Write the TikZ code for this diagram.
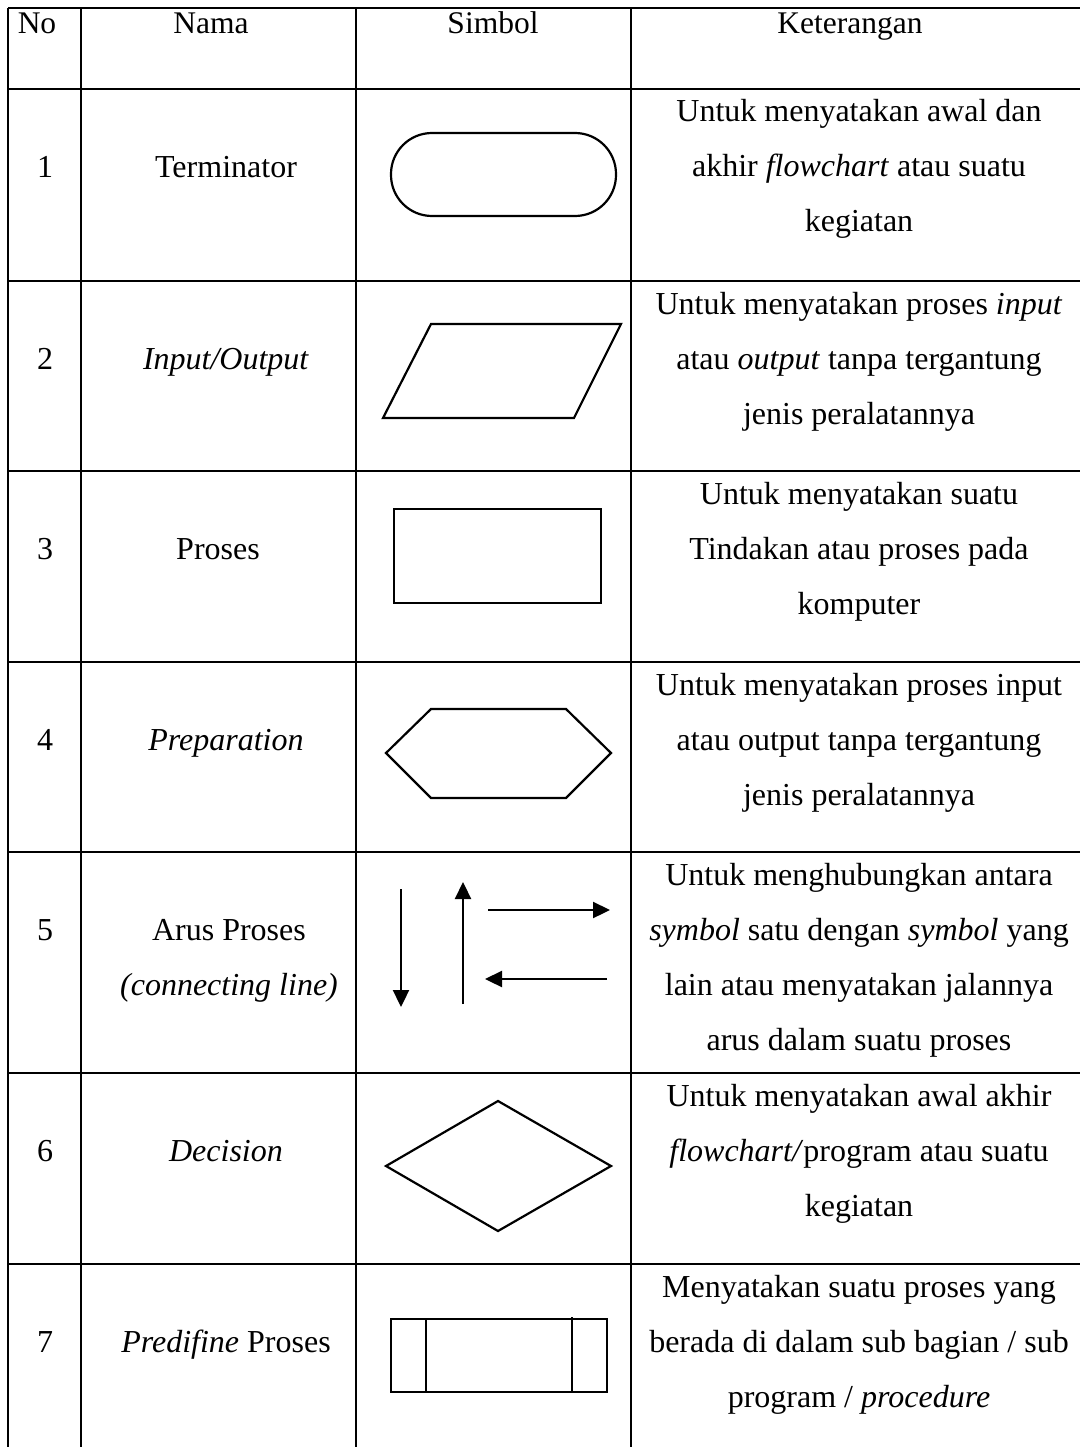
\documentclass[tikz,border=0pt]{standalone}
\usepackage{fontspec}
\setmainfont{Liberation Serif}
\usetikzlibrary{arrows.meta}
\begin{document}
\begin{tikzpicture}[x=1pt,y=-1pt,
    every node/.style={font=\fontsize{32}{55}\selectfont,inner sep=0pt},
    head/.style={font=\fontsize{31.5}{55}\selectfont},
    rule/.style={line width=2.6pt},
    sym/.style={line width=2.2pt,line join=miter},
    flow/.style={line width=2.3pt,-{Triangle[length=17pt,width=16pt]}},
    txt/.style={anchor=base,align=center}]
    \useasboundingbox (0,0) rectangle (1080,1447);
    % garis tabel
    \draw[rule] (8,8) -- (1080,8);
    \draw[rule] (8,89) -- (1080,89);
    \draw[rule] (8,281) -- (1080,281);
    \draw[rule] (8,471) -- (1080,471);
    \draw[rule] (8,662) -- (1080,662);
    \draw[rule] (8,852) -- (1080,852);
    \draw[rule] (8,1073) -- (1080,1073);
    \draw[rule] (8,1264) -- (1080,1264);
    \draw[rule] (8,8) -- (8,1447);
    \draw[rule] (81,8) -- (81,1447);
    \draw[rule] (356,8) -- (356,1447);
    \draw[rule] (631,8) -- (631,1447);
    % kepala tabel
    \node[txt,head] (hno) at (37,34) {No};
    \node[txt,head] (hnama) at (211,34) {Nama};
    \node[txt,head] (hsimbol) at (493,34) {Simbol};
    \node[txt,head] (hket) at (850,34) {Keterangan};
    % 1 terminator
    \node[txt] (no1) at (45,178) {1};
    \node[txt] (nama1) at (226,178) {Terminator};
    \draw[sym,rounded corners=41pt] (391,133) rectangle (616,216);
    \node[txt] (ket1) at (859,232) {Untuk menyatakan awal dan\\
        akhir \textit{flowchart} atau suatu\\ kegiatan};
    % 2 input/output
    \node[txt] (no2) at (45,369) {2};
    \node[txt] (nama2) at (226,369) {\textit{Input/Output}};
    \draw[sym] (431,324) -- (621,324) -- (574,418) -- (383,418) -- cycle;
    \node[txt] (ket2) at (859,424) {Untuk menyatakan proses \textit{input}\\
        atau \textit{output} tanpa tergantung\\ jenis peralatannya};
    % 3 proses
    \node[txt] (no3) at (45,559) {3};
    \node[txt] (nama3) at (218,559) {Proses};
    \draw[sym] (394,509) rectangle (601,603);
    \node[txt] (ket3) at (859,614) {Untuk menyatakan suatu\\
        Tindakan atau proses pada\\ komputer};
    % 4 preparation
    \node[txt] (no4) at (45,750) {4};
    \node[txt] (nama4) at (226,750) {\textit{Preparation}};
    \draw[sym] (386,753) -- (431,709) -- (566,709) -- (611,753) -- (566,798)
        -- (431,798) -- cycle;
    \node[txt] (ket4) at (859,805) {Untuk menyatakan proses input\\
        atau output tanpa tergantung\\ jenis peralatannya};
    % 5 arus proses
    \node[txt] (no5) at (45,940) {5};
    \node[txt] (nama5) at (229,995) {Arus Proses\\ \textit{(connecting line)}};
    \draw[flow] (401,889) -- (401,1007);
    \draw[flow] (463,1004) -- (463,882);
    \draw[flow] (488,910) -- (610,910);
    \draw[flow] (607,979) -- (485,979);
    \node[txt] (ket5) at (859,1050) {Untuk menghubungkan antara\\
        \textit{symbol} satu dengan \textit{symbol} yang\\
        lain atau menyatakan jalannya\\ arus dalam suatu proses};
    % 6 decision
    \node[txt] (no6) at (45,1161) {6};
    \node[txt] (nama6) at (226,1161) {\textit{Decision}};
    \draw[sym] (498,1101) -- (611,1166) -- (498,1231) -- (386,1166) -- cycle;
    \node[txt] (ket6) at (859,1216) {Untuk menyatakan awal akhir\\
        \textit{flowchart/}program atau suatu\\ kegiatan};
    % 7 predifine proses
    \node[txt] (no7) at (45,1352) {7};
    \node[txt] (nama7) at (226,1352) {\textit{Predifine} Proses};
    \draw[sym] (391,1319) rectangle (607,1392);
    \draw[line width=2pt] (426,1319) -- (426,1392);
    \draw[line width=2pt] (572,1317) -- (572,1392);
    \node[txt] (ket7) at (859,1407) {Menyatakan suatu proses yang\\
        berada di dalam sub bagian / sub\\ program / \textit{procedure}};
\end{tikzpicture}
\end{document}
